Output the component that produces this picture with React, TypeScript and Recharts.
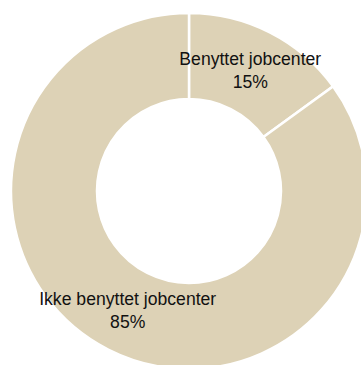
import React from "react";
import { PieChart, Pie, Cell } from "recharts";

const categories = ["Benyttet jobcenter", "Ikke benyttet jobcenter"];
const values = [15, 85];
const percentLabels = ["15%", "85%"];
const colors = ["#DDD2B6", "#DDD2B6"];

const data = categories.map((name, i) => ({ name, value: values[i], pct: percentLabels[i] }));

const RAD = Math.PI / 180;

const renderLabel = (props: any) => {
  const { cx, cy, midAngle, innerRadius, outerRadius, index } = props;
  const r = (innerRadius + outerRadius) / 2;
  const x = cx + r * Math.cos(-midAngle * RAD);
  const y = cy + r * Math.sin(-midAngle * RAD);
  return (
    <text
      x={x}
      y={y}
      textAnchor="middle"
      fill="#111"
      fontFamily="'Liberation Sans', Arial, sans-serif"
      fontSize={17.6}
    >
      <tspan x={x} y={y - 6}>{categories[index]}</tspan>
      <tspan x={x} y={y + 17}>{percentLabels[index]}</tspan>
    </text>
  );
};

export default function App() {
  return (
    <div style={{ position: "absolute", left: 0, top: 0, width: 361, height: 365, overflow: "hidden" }}>
      <PieChart
        width={361}
        height={365}
        margin={{ top: 0, right: 0, bottom: 0, left: 0 }}
      >
        <Pie
          data={data}
          dataKey="value"
          nameKey="name"
          cx={189}
          cy={191}
          innerRadius={92}
          outerRadius={178}
          startAngle={90}
          endAngle={-270}
          stroke="#ffffff"
          strokeWidth={2.5}
          label={renderLabel}
          labelLine={false}
          isAnimationActive={false}
        >
          {data.map((d, i) => (
            <Cell key={d.name} fill={colors[i]} />
          ))}
        </Pie>
      </PieChart>
    </div>
  );
}
